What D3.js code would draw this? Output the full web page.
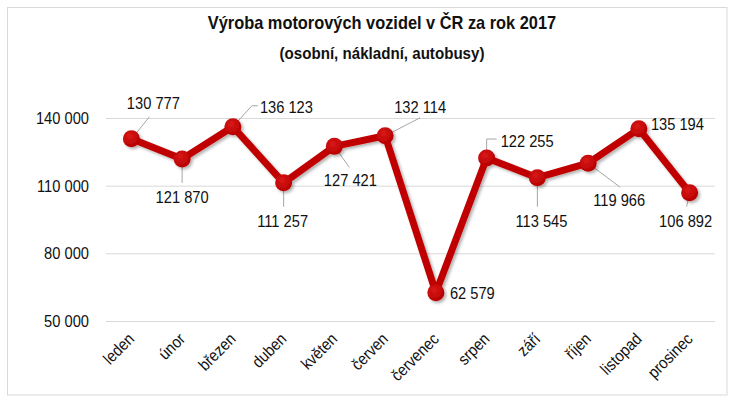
<!DOCTYPE html>
<html><head><meta charset="utf-8">
<script src="https://cdn.jsdelivr.net/npm/d3@7"></script>
<style>
html,body{margin:0;padding:0;background:#fff;}
svg text{font-family:"Liberation Sans",Arial,sans-serif;fill:#111;}
</style></head>
<body>
<svg id="chart" width="738" height="418"></svg>
<script>
const months = ["leden","únor","březen","duben","květen","červen","červenec","srpen","září","říjen","listopad","prosinec"];
const production = [130777,121870,136123,111257,127421,132114,62579,122255,113545,119966,135194,106892];
const yTicks = [50000,80000,110000,140000];
const titleText = "Výroba motorových vozidel v ČR za rok 2017";
const subtitleText = "(osobní, nákladní, autobusy)";

// label placement relative to marker: [dx, dy, anchor, leader points (relative)]
const labelLayout = [
  {dx:22, dy:-30, anchor:"middle", leader:[[2,-2],[18,-22]]},
  {dx:0, dy:44, anchor:"middle", leader:[[0,0],[0,24]]},
  {dx:27, dy:-14, anchor:"start", leader:[[0,0],[19,-21],[25,-21]]},
  {dx:-1, dy:44, anchor:"middle", leader:[[0,0],[0,24]]},
  {dx:16, dy:40, anchor:"middle", leader:[[0,0],[15,21]]},
  {dx:35, dy:-23, anchor:"middle", leader:[[0,0],[35,-18]]},
  {dx:14, dy:6, anchor:"start", leader:null},
  {dx:14, dy:-11, anchor:"start", leader:[[0,0],[0,-19],[10,-19]]},
  {dx:4, dy:49, anchor:"middle", leader:[[0,0],[0,29]]},
  {dx:31, dy:43, anchor:"middle", leader:[[0,0],[32,24]]},
  {dx:12, dy:1, anchor:"start", leader:null},
  {dx:-4, dy:34, anchor:"middle", leader:[[0,0],[-3,14]]}
];

const svg = d3.select("#chart");
const SX = 0.89;
const fmt = v => d3.format(",")(v).replace(/,/g, " ");

// outer border
svg.append("rect").attr("x",7.5).attr("y",7.5).attr("width",719.5).attr("height",387.5)
  .attr("fill","#fff").attr("stroke","#d9d9d9").attr("stroke-width",1);

const defs = svg.append("defs");
const f = defs.append("filter").attr("id","shadow").attr("x","-20%").attr("y","-20%").attr("width","140%").attr("height","140%");
f.append("feDropShadow").attr("dx",2).attr("dy",2).attr("stdDeviation",1.8)
  .attr("flood-color","#000").attr("flood-opacity",0.3);
const rg = defs.append("radialGradient").attr("id","mk").attr("cx","40%").attr("cy","35%").attr("r","65%");
rg.append("stop").attr("offset","0%").attr("stop-color","#d81818");
rg.append("stop").attr("offset","100%").attr("stop-color","#b80000");

const x = d3.scaleBand().domain(months).range([106,715]);
const y = d3.scaleLinear().domain([50000,140000]).range([321,118]);
const cx = m => x(m) + x.bandwidth()/2;

function stext(sel, tx, ty, str, size, anchor, weight, rot){
  const g = sel.append("g").attr("transform", `translate(${tx},${ty})` + (rot?` rotate(${rot})`:""));
  g.append("text").attr("transform",`scale(${SX},1)`)
    .attr("text-anchor",anchor).attr("font-size",size).attr("font-weight",weight||"normal").text(str);
  return g;
}

// title
stext(svg, 382, 29, titleText, 18.4, "middle", "bold");
stext(svg, 382, 58.5, subtitleText, 17, "middle", "bold");

// gridlines
svg.append("g").selectAll("line").data(yTicks).join("line")
  .attr("x1",106).attr("x2",715).attr("y1",d=>y(d)+0.5).attr("y2",d=>y(d)+0.5)
  .attr("stroke","#d9d9d9").attr("stroke-width",1);

// y labels
const yl = svg.append("g");
yTicks.forEach(t => stext(yl, 89, y(t)+6, fmt(t), 16.5, "end"));

// x labels
const xl = svg.append("g");
months.forEach(m => stext(xl, cx(m)+4, 340, m, 16.5, "end", "normal", -45));

// leaders
const lg = svg.append("g");
production.forEach((v,i) => {
  const L = labelLayout[i];
  if(!L.leader) return;
  const px = cx(months[i]), py = y(v);
  lg.append("polyline").attr("points", L.leader.map(p => `${px+p[0]},${py+p[1]}`).join(" "))
    .attr("fill","none").attr("stroke","#a6a6a6").attr("stroke-width",1);
});

// line
const line = d3.line().x((d,i)=>cx(months[i])).y(d=>y(d));
const series = svg.append("g").attr("filter","url(#shadow)");
series.append("path").datum(production).attr("d",line)
  .attr("fill","none").attr("stroke","#c00000").attr("stroke-width",7).attr("stroke-linejoin","round");
series.selectAll("circle").data(production).join("circle")
  .attr("cx",(d,i)=>cx(months[i])).attr("cy",d=>y(d)).attr("r",8.5)
  .attr("fill","url(#mk)");

// data labels
const dl = svg.append("g");
production.forEach((v,i) => {
  const L = labelLayout[i];
  stext(dl, cx(months[i])+L.dx, y(v)+L.dy, fmt(v), 16.5, L.anchor);
});
</script>
</body></html>
